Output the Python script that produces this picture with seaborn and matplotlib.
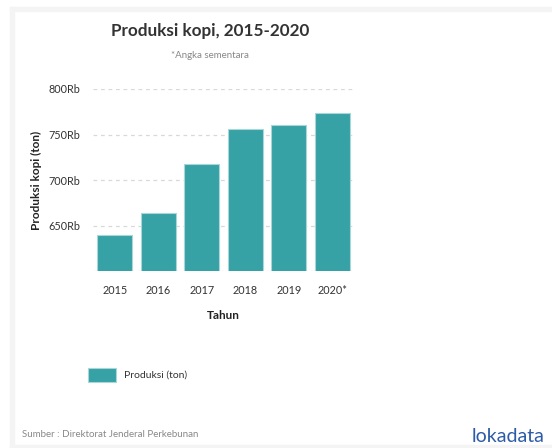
import matplotlib
matplotlib.use("Agg")
import matplotlib.pyplot as plt
import seaborn as sns
import pandas as pd
from matplotlib.patches import Rectangle

years = ["2015", "2016", "2017", "2018", "2019", "2020*"]
produksi = [639412, 663871, 717962, 756051, 760963, 773409]
yticks = [650000, 700000, 750000, 800000]
ytick_labels = ["650Rb", "700Rb", "750Rb", "800Rb"]

df = pd.DataFrame({"Tahun": years, "Produksi (ton)": produksi})

sns.set_theme(style="white")
plt.rcParams["font.family"] = ["Lato", "DejaVu Sans"]

W, H = 552, 448
fig = plt.figure(figsize=(W / 100, H / 100), dpi=100)
fig.patch.set_facecolor("white")

# light frame
grey = "#f4f4f4"
fig.patches.append(Rectangle((10 / W, 0), 4 / W, 1 - 7 / H, transform=fig.transFigure, color=grey, zorder=0))
fig.patches.append(Rectangle((10 / W, 1 - 11 / H), 1, 4 / H, transform=fig.transFigure, color=grey, zorder=0))
fig.patches.append(Rectangle((10 / W, 0), 1, 3 / H, transform=fig.transFigure, color=grey, zorder=0))

ax = fig.add_axes([93 / W, 1 - 271 / H, (354 - 93) / W, (271 - 89) / H])
bar_color = "#36a2a6"
sns.barplot(data=df, x="Tahun", y="Produksi (ton)", color=bar_color, width=0.8,
            edgecolor="#a9d6d6", linewidth=0.8, saturation=1, ax=ax, zorder=3)

ax.set_ylim(600000, 800000)
ax.set_xlim(-0.5, 5.5)
ax.set_yticks(yticks)
ax.set_yticklabels(ytick_labels)
for y in [600000] + yticks:
    ax.axhline(y, color="#d8d8d8", linestyle=(0, (3, 3)), linewidth=0.9, zorder=1)
for s in ax.spines.values():
    s.set_visible(False)
ax.tick_params(axis="y", length=0, labelsize=7.8, labelcolor="#333333", pad=9)
ax.tick_params(axis="x", length=0, labelsize=7.8, labelcolor="#333333", pad=10)
ax.set_xlabel("Tahun", fontsize=8.5, fontweight="bold", color="#222222", labelpad=10)
ax.set_ylabel("Produksi kopi (ton)", fontsize=8.5, fontweight="bold", color="#222222", labelpad=5)
ax.set_facecolor("white")

fig.text(210 / W, 1 - 31 / H, "Produksi kopi, 2015-2020", ha="center", va="center",
         fontsize=12.3, fontweight="bold", color="#333333")
fig.text(210 / W, 1 - 56 / H, "*Angka sementara", ha="center", va="center",
         fontsize=7, color="#888888")

# legend
fig.patches.append(Rectangle((88 / W, 1 - 382 / H), 28 / W, 14 / H, transform=fig.transFigure,
                             facecolor=bar_color, edgecolor="#a9d6d6", linewidth=0.8))
fig.text(124 / W, 1 - 375 / H, "Produksi (ton)", ha="left", va="center", fontsize=7.5, color="#333333")

fig.text(22 / W, 1 - 434 / H, "Sumber : Direktorat Jenderal Perkebunan", ha="left", va="center",
         fontsize=7, color="#888888")
fig.text(472 / W, 1 - 436 / H, "lokadata", ha="left", va="center", fontsize=14, color="#2c5ba8")

fig.savefig("out.png", dpi=100, facecolor="white")
